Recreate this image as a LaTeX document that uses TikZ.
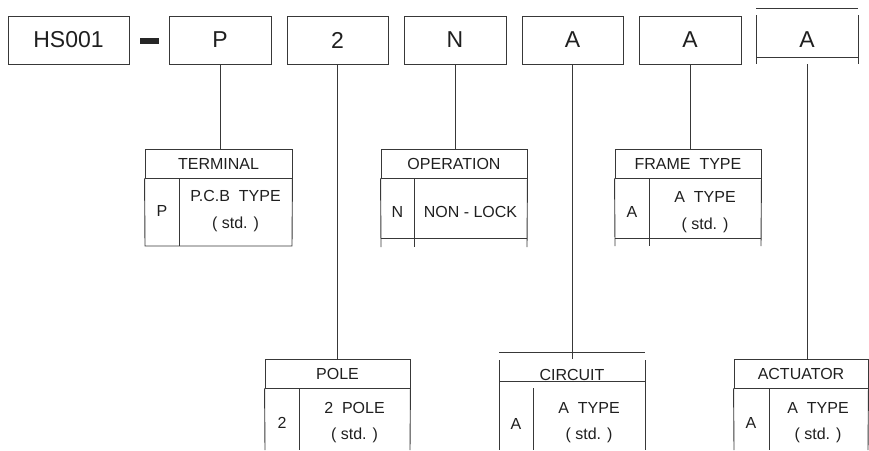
\documentclass[tikz,border=0pt]{standalone}
\usepackage{fontspec}
\setmainfont{Liberation Sans}
\begin{document}
\begin{tikzpicture}[x=1pt,y=-1pt,
  ln/.style={draw=black!78,line width=0.9pt},
  topbox/.style={ln,rectangle,minimum height=48pt,inner sep=0pt,font=\fontsize{23}{26}\selectfont,text=black!88},
  hdr/.style={ln,rectangle,minimum height=29pt,inner sep=0pt,font=\fontsize{16}{18}\selectfont,text=black!88},
  txt/.style={inner sep=0pt,font=\fontsize{16}{18}\selectfont,text=black!88}]
\useasboundingbox (0,0) rectangle (869,450);
% top row
\node[topbox,minimum width=121pt] (hs) at (68.5,40) {HS001};
\fill[black!85] (140,38) rectangle (159,43.5);
\node[topbox,minimum width=102pt] (p) at (220,40) {P};
\node[topbox,minimum width=101pt] (two) at (337.5,40) {2};
\node[topbox,minimum width=102pt] (n) at (455,40) {N};
\node[topbox,minimum width=101pt] (a1) at (572.5,40) {A};
\node[topbox,minimum width=102pt] (a2) at (690,40) {A};
\node[topbox,draw=none,minimum width=102pt] (a3) at (807,40) {A};
\draw[ln] (756,8) -- (858,8);
\draw[ln] (756,15) -- (756,64) (858,15) -- (858,64);
\draw[ln] (756,57) -- (858,57);
% TERMINAL
\node[hdr,minimum width=147pt] (term) at (218.5,163.5) {TERMINAL};
\draw[ln] (term.south west) -- (145,246) -- (292,246) -- (term.south east);
\draw[ln] (179,178) -- (179,246);
\node[txt] (termk) at (162,211) {P};
\node[txt] (termv) at (235.5,196) {P.C.B\ \ TYPE};
\node[txt] (terms) at (235.5,224.5) {( std. )};
% OPERATION
\node[hdr,minimum width=146pt] (oper) at (454,163.5) {OPERATION};
\draw[ln] (oper.south west) -- (381,247) (oper.south east) -- (527,247);
\draw[ln] (381,238) -- (527,238);
\draw[ln] (414,178) -- (414,247);
\node[txt] (operk) at (397.5,212) {N};
\node[txt] (operv) at (470.5,212) {NON - LOCK};
% FRAME TYPE
\node[hdr,minimum width=146pt] (frame) at (688,163.5) {FRAME\ \ TYPE};
\draw[ln] (frame.south west) -- (615,246) (frame.south east) -- (761,246);
\draw[ln] (615,238) -- (761,238);
\draw[ln] (649,178) -- (649,246);
\node[txt] (framek) at (632,212) {A};
\node[txt] (framev) at (705,197) {A\ \ TYPE};
\node[txt] (frames) at (705,225.5) {( std. )};
% POLE
\node[hdr,minimum width=145pt] (pole) at (337.5,373.5) {POLE};
\draw[ln] (pole.south west) -- (265,450) (pole.south east) -- (410,450);
\draw[ln] (299,388) -- (299,450);
\node[txt] (polek) at (282,423) {2};
\node[txt] (polev) at (354.5,408) {2\ \ POLE};
\node[txt] (poles) at (354.5,435) {( std. )};
% CIRCUIT
\coordinate (circtop) at (572.5,359);
\draw[ln] (499,352) -- (645,352);
\draw[ln] (499,360) -- (499,450) (645,360) -- (645,450);
\draw[ln] (499,381) -- (645,381);
\node[txt,anchor=base] (circ) at (572,380.5) {CIRCUIT};
\draw[ln] (533,388) -- (533,450);
\node[txt] (circk) at (516,424) {A};
\node[txt] (circv) at (589,408) {A\ \ TYPE};
\node[txt] (circs) at (589,435) {( std. )};
% ACTUATOR
\node[hdr,minimum width=134pt] (act) at (801,373.5) {ACTUATOR};
\draw[ln] (act.south west) -- (734,450) (act.south east) -- (868,450);
\draw[ln] (769,388) -- (769,450);
\node[txt] (actk) at (751,423) {A};
\node[txt] (actv) at (818,408) {A\ \ TYPE};
\node[txt] (acts) at (818,435) {( std. )};
% connectors
\draw[ln] (p.south) -- (p.south |- term.north);
\draw[ln] (two.south) -- (two.south |- pole.north);
\draw[ln] (n.south) -- (n.south |- oper.north);
\draw[ln] (a1.south) -- (circtop);
\draw[ln] (a2.south) -- (a2.south |- frame.north);
\draw[ln] (a3.south) -- (a3.south |- act.north);
\end{tikzpicture}
\end{document}
